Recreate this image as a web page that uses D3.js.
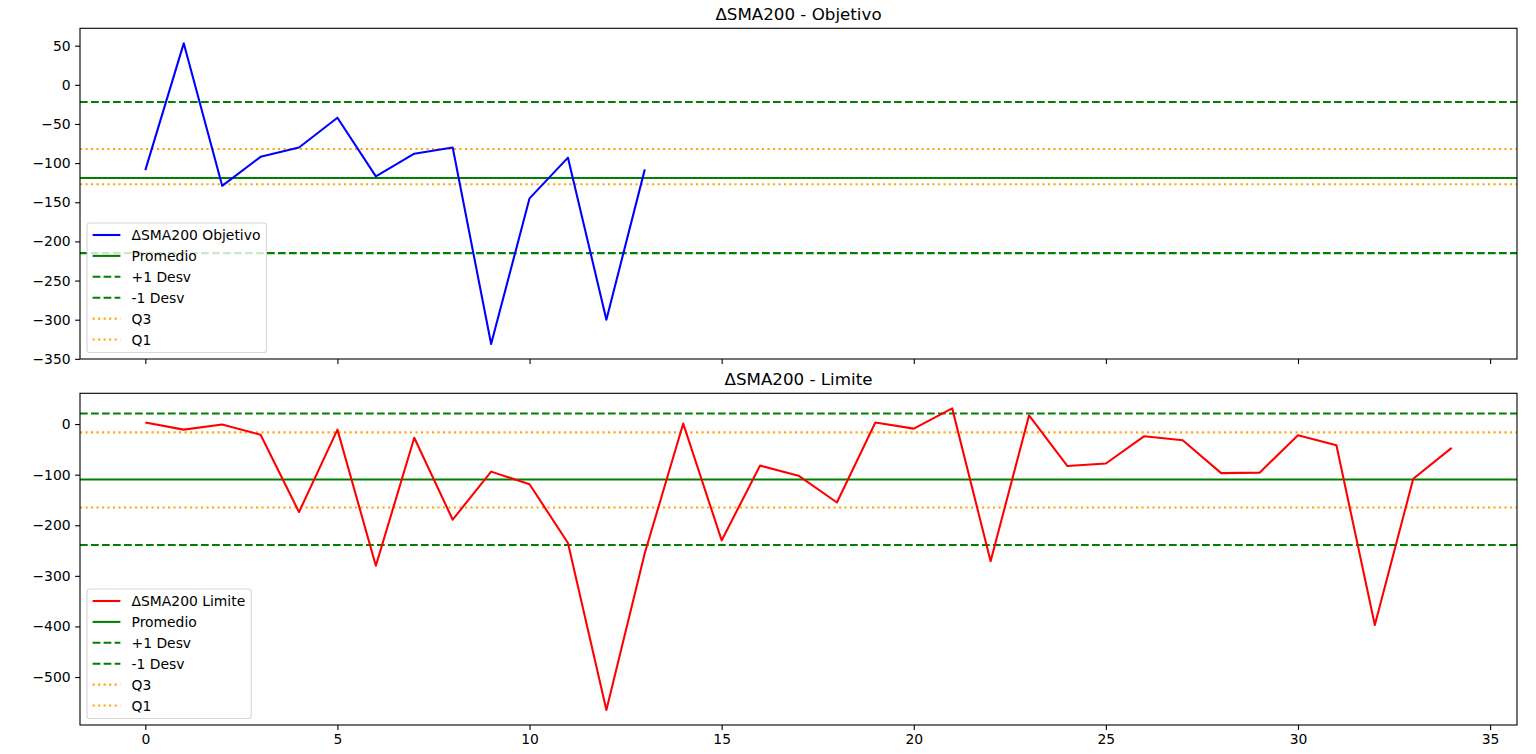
<!DOCTYPE html>
<html>
<head>
<meta charset="utf-8">
<script src="https://d3js.org/d3.v7.min.js"></script>
<style>
  body { margin: 0; background: #fff; }
  text { font-family: "DejaVu Sans", sans-serif; fill: #000; }
</style>
</head>
<body>
<script>
// Data
var xObjetivo = d3.range(0, 14);
var objetivo = [-109, 53, -129, -92, -80, -42, -117, -88, -80, -331, -145, -93, -300, -108];
var xLimite = d3.range(0, 35);
var limite = [3, -11, -1, -21, -174, -11, -280, -27, -189, -94, -119, -235, -565, -255, 1, -230,
              -82, -102, -155, 3, -9, 31, -271, 17, -83, -78, -24, -32, -97, -96, -22, -42, -397, -108, -47];

// Reference lines: [promedio, +1 desv, -1 desv, q3, q1]
var refObjetivo = [-119, -22, -215, -82, -127];
var refLimite = [-109.5, 21, -239, -16.5, -165];

var refLabels = ["Promedio", "+1 Desv", "-1 Desv", "Q3", "Q1"];
var refColors = ["green", "green", "green", "orange", "orange"];
var refDash = [null, "7.7,3.3", "7.7,3.3", "2.1,3.4", "2.1,3.4"];

var xTicks = [0, 5, 10, 15, 20, 25, 30, 35];
var yTicksObjetivo = [50, 0, -50, -100, -150, -200, -250, -300, -350];
var yTicksLimite = [0, -100, -200, -300, -400, -500];

var W = 1536, H = 754;
var left = 80, right = 1517;

var svg = d3.select("body").append("svg")
    .attr("width", W)
    .attr("height", H);

// shared x scale, matplotlib style 5% margins
var xAll = xObjetivo.concat(xLimite);
var xMin = d3.min(xAll), xMax = d3.max(xAll), xPad = (xMax - xMin) * 0.05;
var x = d3.scaleLinear()
    .domain([xMin - xPad, xMax + xPad])
    .range([left, right]);

function panel(top, bottom, title, xs, ys, ref, color, name, yTicks, showXLabels) {
  var lo = Math.min(d3.min(ys), d3.min(ref)), hi = Math.max(d3.max(ys), d3.max(ref));
  lo = d3.min(ys); hi = d3.max(ys);
  var pad = (hi - lo) * 0.05;
  var y = d3.scaleLinear()
      .domain([lo - pad, hi + pad])
      .range([bottom, top]);

  var g = svg.append("g");

  // reference lines
  g.selectAll(".ref")
      .data(ref)
    .enter().append("line")
      .attr("x1", left)
      .attr("x2", right)
      .attr("y1", function(d) { return y(d); })
      .attr("y2", function(d) { return y(d); })
      .attr("stroke", function(d, i) { return refColors[i]; })
      .attr("stroke-width", 2.08)
      .attr("stroke-dasharray", function(d, i) { return refDash[i]; });

  // series line
  var line = d3.line()
      .x(function(d, i) { return x(xs[i]); })
      .y(function(d) { return y(d); });
  g.append("path")
      .datum(ys)
      .attr("d", line)
      .attr("fill", "none")
      .attr("stroke", color)
      .attr("stroke-width", 2.08)
      .attr("stroke-linejoin", "round");

  // axes
  var ax = svg.append("g")
      .attr("transform", "translate(0," + bottom + ")")
      .call(d3.axisBottom(x).tickValues(xTicks).tickSize(4.9).tickPadding(4.5)
            .tickFormat(showXLabels ? d3.format("d") : function() { return ""; }));
  var ay = svg.append("g")
      .attr("transform", "translate(" + left + ",0)")
      .call(d3.axisLeft(y).tickValues(yTicks).tickSize(4.9).tickPadding(4.5).tickFormat(d3.format("d")));
  [ax, ay].forEach(function(a) {
    a.select(".domain").remove();
    a.selectAll(".tick line").attr("stroke", "#000").attr("stroke-width", 1.1);
    a.selectAll(".tick text").style("font-size", "13.9px").attr("font-family", "DejaVu Sans");
  });

  // frame
  svg.append("rect")
      .attr("x", left)
      .attr("y", top)
      .attr("width", right - left)
      .attr("height", bottom - top)
      .attr("fill", "none")
      .attr("stroke", "#000")
      .attr("stroke-width", 1.1);

  // title
  svg.append("text")
      .attr("x", (left + right) / 2)
      .attr("y", top - 8.5)
      .attr("text-anchor", "middle")
      .style("font-size", "16.7px")
      .text(title);

  // legend, lower left
  var labels = [name].concat(refLabels);
  var colors = [color].concat(refColors);
  var dashes = [null].concat(refDash);
  var fs = 13.9, rowH = 20.9;
  var lg = svg.append("g");
  var box = lg.append("rect");
  var tw = 0;
  var boxH = 12 + rowH * 5 + 13;
  var boxLeft = left + 7, boxTop = bottom - 6.5 - boxH;
  labels.forEach(function(l, i) {
    var cy = boxTop + 12 + i * rowH;
    lg.append("line")
        .attr("x1", boxLeft + 5.6)
        .attr("x2", boxLeft + 5.6 + 27.8)
        .attr("y1", cy).attr("y2", cy)
        .attr("stroke", colors[i])
        .attr("stroke-width", 2.08)
        .attr("stroke-dasharray", dashes[i]);
    var t = lg.append("text")
        .attr("x", boxLeft + 5.6 + 27.8 + 11.1)
        .attr("y", cy + 5)
        .style("font-size", fs + "px")
        .text(l);
    tw = Math.max(tw, t.node().getComputedTextLength());
  });
  box.attr("x", boxLeft)
      .attr("y", boxTop)
      .attr("width", 5.6 + 27.8 + 11.1 + tw + 6)
      .attr("height", boxH)
      .attr("rx", 2.8)
      .attr("fill", "#fff")
      .attr("fill-opacity", 0.8)
      .attr("stroke", "#ccc")
      .attr("stroke-opacity", 0.8)
      .attr("stroke-width", 1.1);
}

panel(28.3, 359, "ΔSMA200 - Objetivo", xObjetivo, objetivo, refObjetivo, "blue", "ΔSMA200 Objetivo", yTicksObjetivo, false);
panel(393.3, 725, "ΔSMA200 - Limite", xLimite, limite, refLimite, "red", "ΔSMA200 Limite", yTicksLimite, true);
</script>
</body>
</html>
